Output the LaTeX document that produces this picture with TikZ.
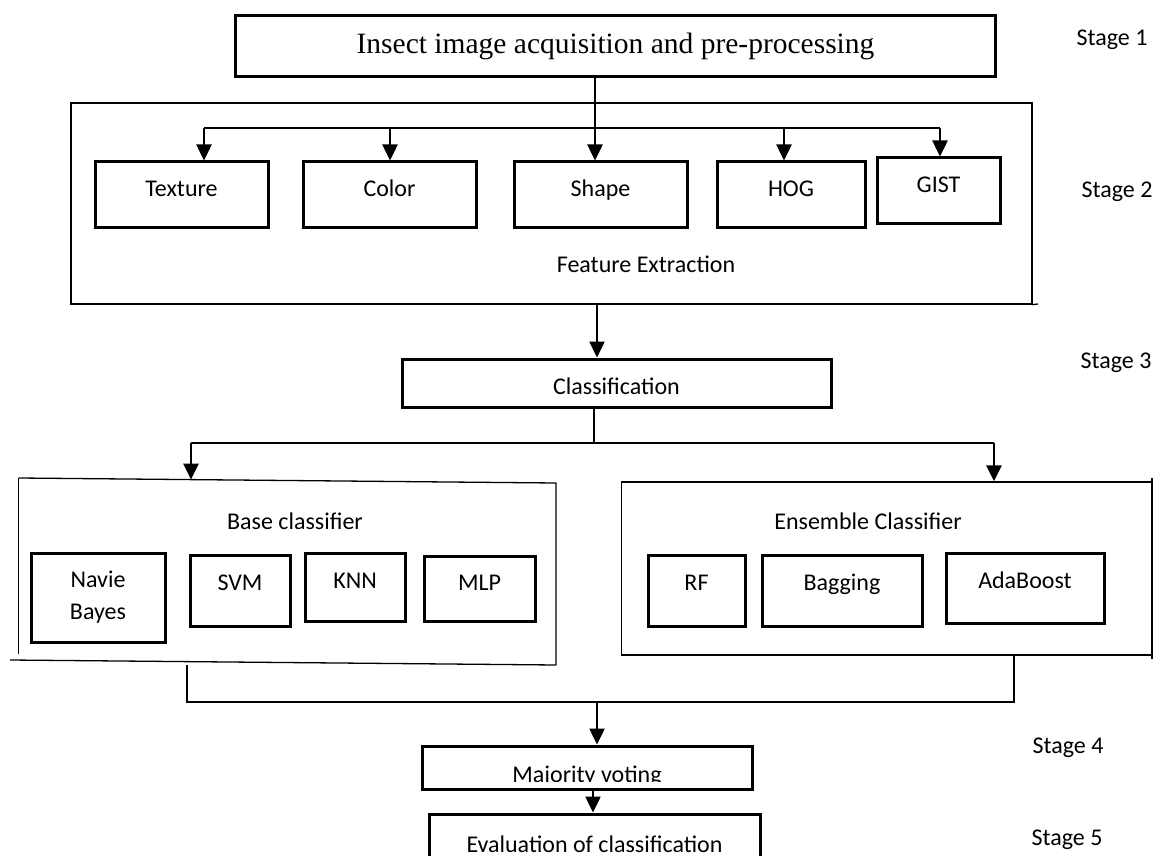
\documentclass[tikz,border=0pt]{standalone}
\usepackage{fontspec}
\setmainfont{Carlito}
\newfontfamily\titlefont{Liberation Serif}
\usetikzlibrary{arrows.meta}
\begin{document}
\begin{tikzpicture}[x=1pt,y=-1pt,
  every node/.style={font=\fontsize{24}{32}\selectfont},
  box/.style={draw, line width=3pt, inner sep=0pt},
  panel/.style={draw, line width=1.3pt},
  arr/.style={line width=2.5pt, -{Triangle[width=15pt,length=16pt]}},
  conn/.style={line width=1.7pt},
  pline/.style={line width=1.3pt},
  tx/.style={text height=#1, text depth=0pt}]
\clip (0,0) rectangle (1160,856);
\fill[white] (0,0) rectangle (1160,856);

% Stage 1
\node[box, minimum width=760pt, minimum height=61pt, font=\titlefont\fontsize{29.5}{32}\selectfont] (top) at (615.5,46.5) {Insect image acquisition and pre-processing};
\node (st1) at (1112,40) {Stage 1};

% Stage 2
\node[panel, minimum width=961pt, minimum height=201pt] (fe) at (551.5,203.5) {};
\coordinate (feext) at (1038,304);
\draw[pline] (fe.south east) -- (feext);
\node (fet) at (646,264) {Feature Extraction};
\node (st2) at (1117,192) {Stage 2};

\node[box, minimum width=173pt, minimum height=65pt, tx=4.5pt] (tex) at (181.5,194.5) {Texture};
\node[box, minimum width=173pt, minimum height=65pt, tx=4.5pt] (col) at (389.5,194.5) {Color};
\node[box, minimum width=173pt, minimum height=65pt, tx=4.5pt] (sha) at (600.5,194.5) {Shape};
\node[box, minimum width=148pt, minimum height=65pt, tx=4.5pt] (hog) at (791,194.5) {HOG};
\node[box, minimum width=123pt, minimum height=65pt, tx=4.5pt] (gist) at (938.5,190.5) {GIST};

\coordinate (t1) at (595,0);
\draw[arr] (top.south -| t1) -- (sha.north -| t1);
\coordinate (bl) at (204,128);
\coordinate (bc) at (390,128);
\coordinate (bh) at (784,128);
\coordinate (br) at (940,128);
\draw[conn] (bl) -- (br);
\draw[arr] (bl) -- (bl |- tex.north);
\draw[arr] (bc) -- (bc |- col.north);
\draw[arr] (bh) -- (bh |- hog.north);
\draw[arr] (br) -- (br |- gist.north);

% Stage 3
\node[box, minimum width=429pt, minimum height=48pt, tx=23.5pt] (cls) at (616.5,383) {Classification};
\node (st3) at (1116,363) {Stage 3};
\coordinate (c1) at (597,0);
\draw[arr] (fe.south -| c1) -- (cls.north -| c1);
\coordinate (c2) at (594,443);
\draw[pline] (cls.south -| c2) -- (c2);
\coordinate (sl) at (191,443);
\coordinate (sr) at (994,443);
\draw[conn] (sl) -- (sr);

% base panel
\coordinate (bp) at (191,479.6);
\draw[pline] (18.6,478) -- (556,483) -- (556,665);
\draw[pline] (18.6,478) -- (18.6,654);
\draw[pline] (10,660) -- (556,665);
\draw[arr] (sl) -- (bp);
\node (bct) at (295,521) {Base classifier};

% ensemble panel
\node[panel, minimum width=530.5pt, minimum height=173pt] (ens) at (886.75,568.5) {};
\draw[pline] (1152,478) -- (1152,659);
\draw[arr] (sr) -- (sr |- ens.north);
\node (ect) at (868,521) {Ensemble Classifier};

\node[box, minimum width=134pt, minimum height=89pt, align=center] (nb) at (98,597.5) {Navie\\Bayes};
\node[box, minimum width=100pt, minimum height=71pt, tx=0.5pt] (svm) at (240,590.5) {SVM};
\node[box, minimum width=100pt, minimum height=68pt, tx=3.5pt] (knn) at (355,587) {KNN};
\node[box, minimum width=111pt, minimum height=65pt, tx=4.5pt] (mlp) at (479.5,588.5) {MLP};
\node[box, minimum width=97pt, minimum height=71pt, tx=0.5pt] (rf) at (696.5,590.5) {RF};
\node[box, minimum width=160pt, minimum height=71pt, tx=0.5pt] (bag) at (842,590.5) {Bagging};
\node[box, minimum width=158pt, minimum height=70pt, tx=1.5pt] (ada) at (1025,588) {AdaBoost};

% merge
\coordinate (bb) at (187,665);
\coordinate (ml) at (187,702);
\coordinate (mr) at (1014,702);
\draw[pline] (bb) -- (ml) -- (mr) -- (mr |- ens.south);

% Stage 4
\node[box, minimum width=330pt, minimum height=43pt] (maj) at (587,767.5) {};
\coordinate (m1) at (597,702);
\draw[arr] (m1) -- (maj.north -| m1);
\begin{scope}
\clip (424,748) rectangle (750,781.5);
\node[anchor=base] (majt) at (587,782) {Majority voting};
\end{scope}
\node (st4) at (1068,748) {Stage 4};

% Stage 5
\node[box, minimum width=331pt, minimum height=60pt] (ev) at (594.5,844) {Evaluation of classification};
\coordinate (m2) at (593,0);
\draw[arr] (maj.south -| m2) -- (ev.north -| m2);
\node (st5) at (1067,840) {Stage 5};
\end{tikzpicture}
\end{document}
